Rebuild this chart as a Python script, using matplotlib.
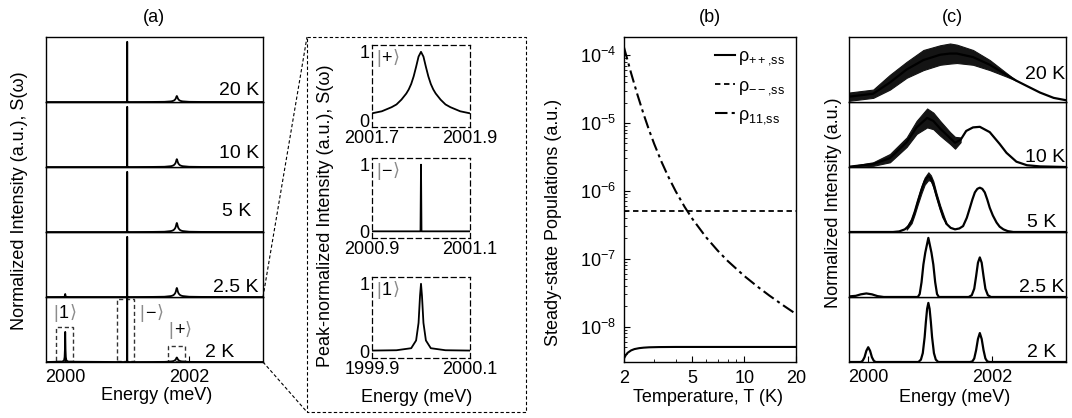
import numpy as np
import matplotlib
matplotlib.use('Agg')
import matplotlib.pyplot as plt
from matplotlib.patches import Rectangle
from matplotlib.lines import Line2D
from matplotlib.ticker import NullFormatter

plt.rcParams['font.family'] = ['Liberation Sans', 'DejaVu Sans']
plt.rcParams['font.size'] = 13
plt.rcParams['mathtext.fontset'] = 'custom'
plt.rcParams['mathtext.rm'] = 'Liberation Sans'
plt.rcParams['mathtext.it'] = 'Liberation Sans:italic'
plt.rcParams['mathtext.bf'] = 'Liberation Sans:bold'
plt.rcParams['axes.linewidth'] = 1.0

# ---------------- data ----------------
temps = ['2 K', '2.5 K', '5 K', '10 K', '20 K']   # bottom to top

# peak-normalized line shapes (insets of panel a)
plus_E = [2001.40, 2001.60, 2001.70, 2001.72, 2001.74, 2001.75, 2001.76, 2001.77, 2001.775,
          2001.78, 2001.785, 2001.79, 2001.795, 2001.80, 2001.805, 2001.81, 2001.815, 2001.82,
          2001.825, 2001.83, 2001.84, 2001.85, 2001.86, 2001.88, 2001.90, 2002.00, 2002.20]
plus_y = [0.01, 0.03, 0.10, 0.13, 0.19, 0.23, 0.30, 0.39, 0.45,
          0.53, 0.64, 0.78, 0.93, 1.0, 0.93, 0.78, 0.64, 0.53,
          0.45, 0.39, 0.30, 0.23, 0.19, 0.13, 0.10, 0.03, 0.01]
minus_E = [2000.90, 2000.999, 2001.0, 2001.001, 2001.10]
minus_y = [0, 0, 1.0, 0, 0]
one_E = [1999.90, 1999.95, 1999.98, 1999.99, 1999.995, 1999.998, 2000.0,
         2000.002, 2000.005, 2000.01, 2000.02, 2000.05, 2000.10]
one_y = [0.01, 0.015, 0.045, 0.16, 0.42, 0.82, 1.0, 0.82, 0.42, 0.16, 0.045, 0.015, 0.01]

# panel (a) peak heights per temperature
a_h1 = [0.5, 0.05, 0, 0, 0]
a_hm = [1.08, 1.0, 1.0, 1.0, 1.0]
a_hp = [0.075, 0.15, 0.15, 0.13, 0.10]

# panel (b) steady-state populations
T_11 = [2, 2.2, 2.4, 2.6, 2.8, 3, 3.3, 3.6, 4, 4.5, 5, 6, 7, 8, 10, 12, 14, 17, 20]
rho_11 = [1.3e-4, 5.41e-5, 2.56e-5, 1.35e-5, 7.8e-6, 4.88e-6, 2.70e-6, 1.66e-6, 9.8e-7, 5.82e-7,
          3.85e-7, 2.07e-7, 1.32e-7, 9.3e-8, 5.57e-8, 3.84e-8, 2.86e-8, 2.02e-8, 1.53e-8]
T_pp = [2, 2.05, 2.1, 2.2, 2.3, 2.45, 2.6, 2.8, 3.2, 4, 20]
rho_pp = [3.4e-9, 3.8e-9, 4.1e-9, 4.45e-9, 4.65e-9, 4.8e-9, 4.88e-9, 4.94e-9, 4.98e-9, 5e-9, 5e-9]
T_mm = [2, 20]
rho_mm = [5e-7, 5e-7]

# panel (c) spectra
c2_E = [1999.69, 1999.88, 1999.91, 1999.94, 1999.97, 2000.00, 2000.03, 2000.06, 2000.09, 2000.12,
        2000.81, 2000.85, 2000.88, 2000.91, 2000.93, 2000.95, 2000.97, 2000.99, 2001.01, 2001.03,
        2001.06, 2001.09, 2001.13,
        2001.64, 2001.68, 2001.71, 2001.74, 2001.77, 2001.80, 2001.83, 2001.86, 2001.89, 2001.92,
        2001.96, 2003.19]
c2_y = [0, 0, 0.02, 0.08, 0.19, 0.25, 0.19, 0.08, 0.02, 0,
        0, 0.04, 0.15, 0.42, 0.68, 0.90, 1.0, 0.90, 0.68, 0.42,
        0.15, 0.04, 0,
        0, 0.01, 0.06, 0.20, 0.39, 0.49, 0.39, 0.20, 0.06, 0.01,
        0, 0]
c25_E = [1999.69, 1999.80, 1999.88, 1999.97, 2000.06, 2000.15, 2000.25,
         2000.80, 2000.83, 2000.86, 2000.89, 2000.92, 2000.95, 2000.97, 2000.99, 2001.02, 2001.05,
         2001.08, 2001.11, 2001.14,
         2001.62, 2001.67, 2001.71, 2001.74, 2001.77, 2001.80, 2001.83, 2001.86, 2001.89, 2001.93,
         2001.98, 2003.19]
c25_y = [0.01, 0.02, 0.045, 0.06, 0.045, 0.015, 0,
         0, 0.05, 0.25, 0.55, 0.75, 0.9, 1.0, 0.9, 0.75, 0.55,
         0.25, 0.05, 0,
         0, 0.03, 0.14, 0.35, 0.58, 0.67, 0.58, 0.35, 0.14, 0.03,
         0, 0]
c5_E = [1999.69, 2000.40, 2000.50, 2000.59, 2000.65, 2000.70, 2000.75, 2000.80, 2000.86, 2000.91,
        2000.97, 2001.01, 2001.05, 2001.10, 2001.16, 2001.21, 2001.27, 2001.33, 2001.40, 2001.47,
        2001.53, 2001.59, 2001.64, 2001.68, 2001.72, 2001.76, 2001.80, 2001.84, 2001.88, 2001.92,
        2001.96, 2002.01, 2002.07, 2002.12, 2002.18, 2002.25, 2002.34, 2003.19]
c5_y = [0, 0, 0.01, 0.045, 0.1, 0.19, 0.34, 0.52, 0.72, 0.86,
        0.95, 0.91, 0.81, 0.62, 0.41, 0.25, 0.13, 0.07, 0.045, 0.06,
        0.1, 0.24, 0.41, 0.55, 0.67, 0.73, 0.75, 0.73, 0.67, 0.55,
        0.41, 0.28, 0.16, 0.09, 0.045, 0.015, 0, 0]
c5_bE = [2000.62, 2000.70, 2000.75, 2000.80, 2000.86, 2000.91, 2000.97, 2001.01, 2001.05,
         2001.10, 2001.16, 2001.25]
c5_hi = [0.09, 0.23, 0.38, 0.57, 0.78, 0.92, 1.01, 0.96, 0.86, 0.66, 0.45, 0.18]
c5_lo = [0.04, 0.15, 0.30, 0.47, 0.66, 0.80, 0.88, 0.86, 0.76, 0.58, 0.37, 0.14]
c10_E = [1999.69, 2000.08, 2000.35, 2000.62, 2000.78, 2000.95, 2001.05, 2001.16, 2001.32, 2001.40,
         2001.49, 2001.58, 2001.69, 2001.80, 2001.96, 2002.12, 2002.23, 2002.39, 2002.56, 2002.77,
         2003.19]
c10_y = [0.005, 0.05, 0.15, 0.42, 0.67, 0.83, 0.78, 0.65, 0.49, 0.41,
         0.46, 0.61, 0.67, 0.68, 0.59, 0.39, 0.24, 0.09, 0.03, 0.01,
         0]
c10_bE = [1999.69, 2000.08, 2000.35, 2000.62, 2000.78, 2000.95, 2001.05, 2001.16, 2001.32,
          2001.40, 2001.49]
c10_hi = [0.01, 0.08, 0.22, 0.50, 0.78, 0.99, 0.92, 0.78, 0.59, 0.51, 0.50]
c10_lo = [0.0, 0.02, 0.08, 0.34, 0.56, 0.67, 0.64, 0.53, 0.39, 0.31, 0.42]
c20_E = [1999.69, 2000.08, 2000.35, 2000.62, 2000.89, 2001.16, 2001.32, 2001.43, 2001.69, 2001.96,
         2002.23, 2002.39, 2002.56, 2002.77, 2002.99, 2003.19]
c20_y = [0.09, 0.14, 0.33, 0.55, 0.71, 0.80, 0.82, 0.82, 0.76, 0.63,
         0.46, 0.36, 0.27, 0.16, 0.07, 0.03]
c20_bE = [1999.69, 2000.08, 2000.35, 2000.62, 2000.89, 2001.16, 2001.32, 2001.43, 2001.69,
          2001.96, 2002.23, 2002.39]
c20_hi = [0.16, 0.21, 0.46, 0.68, 0.88, 0.96, 0.99, 0.97, 0.88, 0.71, 0.49, 0.36]
c20_lo = [0.02, 0.07, 0.21, 0.41, 0.54, 0.63, 0.65, 0.66, 0.63, 0.54, 0.43, 0.36]

c_lines = [(c2_E, c2_y), (c25_E, c25_y), (c5_E, c5_y), (c10_E, c10_y), (c20_E, c20_y)]
c_bands = [None, None, (c5_bE, c5_lo, c5_hi), (c10_bE, c10_lo, c10_hi), (c20_bE, c20_lo, c20_hi)]

# ---------------- layout ----------------
W, H = 1072, 418
fig = plt.figure(figsize=(W / 100, H / 100), dpi=100)


def px_axes(x0, y0, x1, y1):
    return fig.add_axes([x0 / W, 1 - y1 / H, (x1 - x0) / W, (y1 - y0) / H])


def ket(ax, x, y, sym, transform, dx=11.8):
    ax.annotate('|', (x, y), xycoords=transform, color='0.55', va='center', ha='left')
    ax.annotate(sym, (x, y), xycoords=transform, xytext=(4, 0), textcoords='offset points',
                color='k', va='center', ha='left')
    ax.annotate('\u27e9', (x, y), xycoords=transform, xytext=(dx, 0), textcoords='offset points',
                color='0.55', va='center', ha='left')


tops = [297, 232, 167, 102, 37]
xlo, xhi = 1999.69, 2003.19

# panel (a)
a_lab_x = [2002.49, 2002.75, 2002.77, 2002.80, 2002.80]
a_lab_y = [0.15, 0.15, 0.31, 0.21, 0.18]
for i, lab in enumerate(temps):
    ax = px_axes(46, tops[i], 263, tops[i] + 65)
    E = [xlo] + one_E + minus_E + plus_E + [xhi]
    y = ([0] + [v * a_h1[i] for v in one_y] + [v * a_hm[i] for v in minus_y]
         + [v * a_hp[i] for v in plus_y] + [0])
    ax.plot(E, y, color='k', lw=1.3)
    ax.set_xlim(xlo, xhi)
    ax.set_ylim(0, 1.08)
    ax.set_yticks([])
    if i == 0:
        ax.set_xticks([2000, 2002])
        ax.tick_params(direction='in', length=4, pad=5)
        for (e0, e1, top) in [(1999.85, 2000.12, 0.58), (2000.84, 2001.11, 1.04), (2001.66, 2001.93, 0.26)]:
            ax.add_patch(Rectangle((e0, 0.01), e1 - e0, top - 0.01, fill=False, ec='0.2',
                                   ls=(0, (3, 2)), lw=1.0))
        ket(ax, 1999.81, 0.74, '1', ax.get_xaxis_transform(), dx=11.5)
        ket(ax, 2001.2, 0.74, '\u2212', ax.get_xaxis_transform(), dx=12)
        ket(ax, 2001.66, 0.49, '+', ax.get_xaxis_transform(), dx=12)
    else:
        ax.set_xticks([])
    ax.text(a_lab_x[i], a_lab_y[i], lab, transform=ax.get_xaxis_transform(), va='center', ha='center',
            fontsize=14)

# zoom insets
insets = [((372, 45, 470, 127), plus_E, plus_y, 2001.7, 2001.9, '+'),
          ((372, 158, 470, 238), minus_E, minus_y, 2000.9, 2001.1, '\u2212'),
          ((372, 277, 470, 358), one_E, one_y, 1999.9, 2000.1, '1')]
for box, E, y, lo, hi, sym in insets:
    ax = px_axes(*box)
    ax.plot(E, y, color='k', lw=1.3)
    ax.set_xlim(lo, hi)
    ax.set_ylim(-0.1, 1.1)
    ax.set_xticks([lo, hi])
    ax.set_xticklabels([f'{lo:.1f}', f'{hi:.1f}'])
    ax.set_yticks([0, 1])
    ax.tick_params(length=0, pad=2)
    for s in ax.spines.values():
        s.set_linestyle((0, (4, 3)))
        s.set_linewidth(0.9)
    ket(ax, 0.04, 0.83, sym, ax.transAxes)

dash = dict(transform=fig.transFigure, color='k', lw=0.8, ls=(0, (3, 2)))
fig.add_artist(Line2D([x / W for x in [307, 526, 526, 307, 307]],
                      [1 - y / H for y in [37, 37, 412, 412, 37]], **dash))
fig.add_artist(Line2D([263 / W, 307 / W], [1 - 297 / H, 1 - 37 / H], **dash))
fig.add_artist(Line2D([263 / W, 307 / W], [1 - 362 / H, 1 - 412 / H], **dash))

# panel (b)
axb = px_axes(624, 37, 796, 362)
axb.plot(T_pp, rho_pp, color='k', lw=1.5, label=r'ρ$_{\mathregular{++{,}ss}}$')
axb.plot(T_mm, rho_mm, color='k', lw=1.3, ls=(0, (3, 2)), label=r'ρ$_{\mathregular{--{,}ss}}$')
axb.plot(T_11, rho_11, color='k', lw=1.5, ls=(0, (6, 2, 1.5, 2)), label=r'ρ$_{\mathregular{11{,}ss}}$')
axb.set_xscale('log')
axb.set_yscale('log')
axb.set_xlim(2, 20)
axb.set_ylim(3.0e-9, 1.85e-4)
axb.set_xticks([2, 5, 10, 20])
axb.set_xticklabels(['2', '5', '10', '20'])
axb.xaxis.set_minor_formatter(NullFormatter())
axb.tick_params(which='both', direction='in')
axb.tick_params(which='major', length=4, pad=6)
axb.tick_params(which='minor', length=2)
axb.legend(loc='upper right', frameon=False, handlelength=1.1, handletextpad=0.2,
           labelspacing=0.55, borderaxespad=0.2, fontsize=13)

# panel (c)
c_lab_x = [2002.79, 2002.80, 2002.79, 2002.85, 2002.85]
c_lab_y = [0.15, 0.15, 0.15, 0.15, 0.42]
for i, lab in enumerate(temps):
    ax = px_axes(849, tops[i], 1066, tops[i] + 65)
    E, y = c_lines[i]
    ax.plot(E, y, color='k', lw=1.6)
    if c_bands[i] is not None:
        bE, blo, bhi = c_bands[i]
        ax.fill_between(bE, blo, bhi, color='0.08', lw=0.8, ec='0.08')
    ax.set_xlim(xlo, xhi)
    ax.set_ylim(0, 1.1)
    ax.set_yticks([])
    if i == 0:
        ax.set_xticks([2000, 2002])
        ax.tick_params(direction='in', length=4, pad=5)
    else:
        ax.set_xticks([])
    ax.text(c_lab_x[i], c_lab_y[i], lab, transform=ax.get_xaxis_transform(), va='center', ha='center',
            fontsize=14, clip_on=False)

# titles and axis labels
fig.text(154 / W, 1 - 18 / H, '(a)', ha='center', va='center')
fig.text(710 / W, 1 - 18 / H, '(b)', ha='center', va='center')
fig.text(952 / W, 1 - 18 / H, '(c)', ha='center', va='center')
fig.text(157 / W, 1 - 395 / H, 'Energy (meV)', ha='center', va='center')
fig.text(417 / W, 1 - 398 / H, 'Energy (meV)', ha='center', va='center')
fig.text(708 / W, 1 - 398 / H, 'Temperature, T (K)', ha='center', va='center')
fig.text(955 / W, 1 - 397 / H, 'Energy (meV)', ha='center', va='center')
fig.text(20 / W, 1 - 201 / H, 'Normalized Intensity (a.u.), S(ω)', rotation=90, ha='center', va='center')
fig.text(325 / W, 1 - 216 / H, 'Peak-normalized Intensity (a.u.), S(ω)', rotation=90, ha='center', va='center')
fig.text(553 / W, 1 - 222 / H, 'Steady-state Populations (a.u.)', rotation=90, ha='center', va='center')
fig.text(833 / W, 1 - 203 / H, 'Normalized Intensity (a.u.)', rotation=90, ha='center', va='center')

fig.savefig('out.png', dpi=100)
